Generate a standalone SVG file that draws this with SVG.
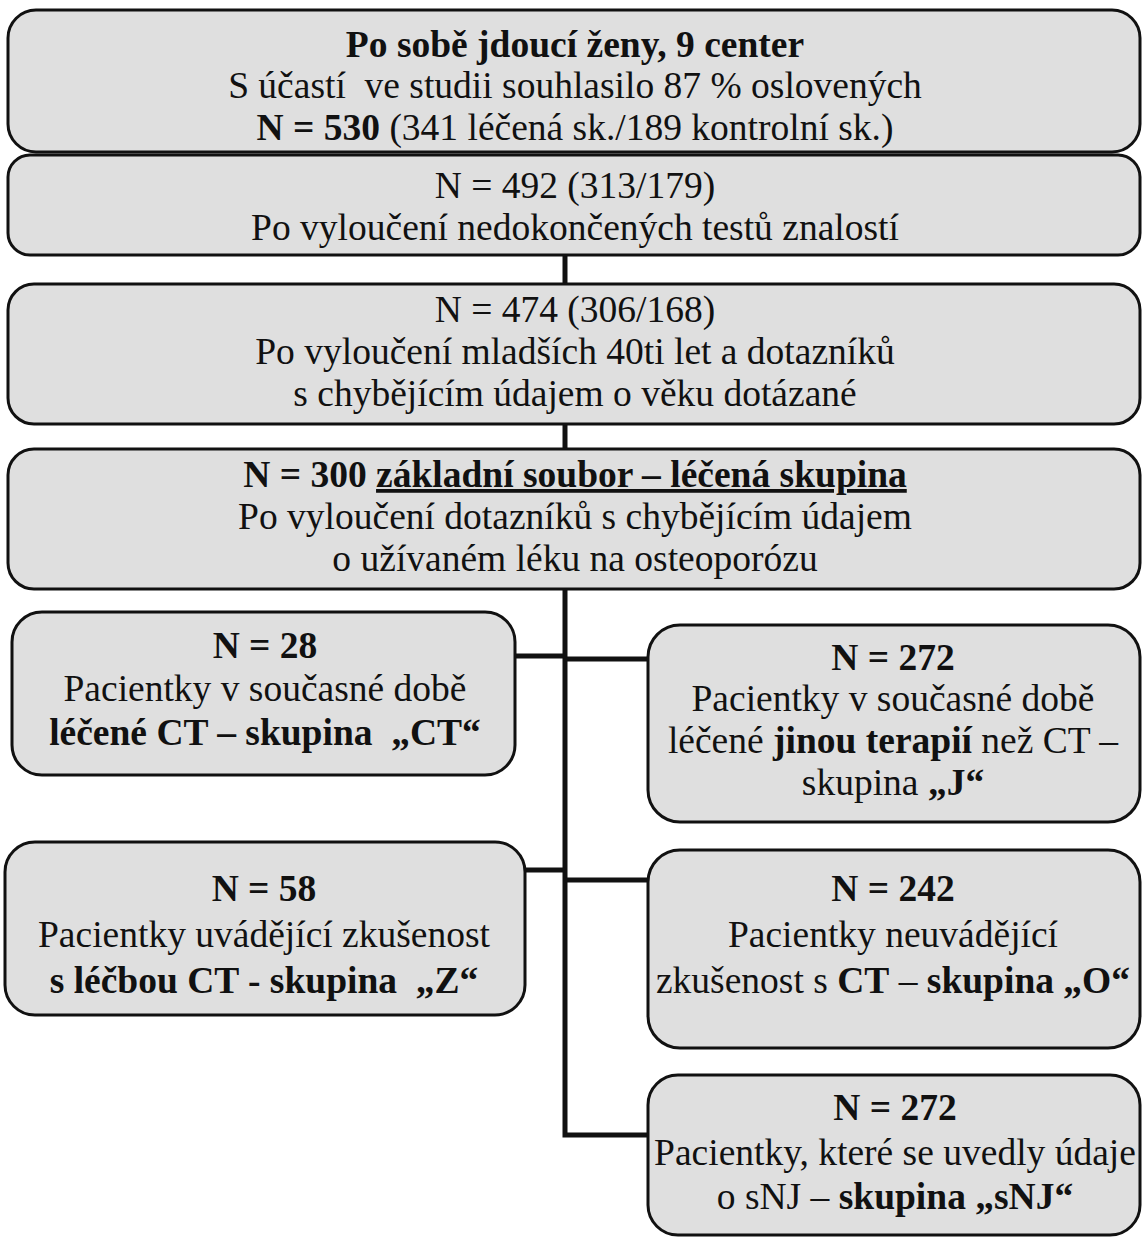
<svg xmlns="http://www.w3.org/2000/svg" width="1145" height="1239" viewBox="0 0 1145 1239">
<style>
.box{fill:#dfdfdf;stroke:#111;stroke-width:3}
.conn{stroke:#111;stroke-width:5;fill:none}
text{font-family:"Liberation Serif","Times New Roman",serif;font-size:37.5px;fill:#111;text-anchor:middle}
.b{font-weight:bold}
</style>
<rect width="1145" height="1239" fill="#ffffff"/>
<g id="connectors">
<line class="conn" x1="565" y1="255" x2="565" y2="284"/>
<line class="conn" x1="565" y1="424" x2="565" y2="449"/>
<polyline class="conn" points="565,589 565,1135 648,1135"/>
<line class="conn" x1="515" y1="656" x2="565" y2="656"/>
<line class="conn" x1="565" y1="659" x2="648" y2="659"/>
<line class="conn" x1="525" y1="870" x2="565" y2="870"/>
<line class="conn" x1="565" y1="880" x2="648" y2="880"/>
</g>
<g id="n1">
<rect class="box" x="8" y="10" width="1132" height="142" rx="28"/>
<text x="575" y="57" class="b">Po sobě jdoucí ženy, 9 center</text>
<text x="575" y="98" xml:space="preserve">S účastí  ve studii souhlasilo 87 % oslovených</text>
<text x="575" y="140"><tspan class="b">N = 530</tspan> (341 léčená sk./189 kontrolní sk.)</text>
</g>
<g id="n2">
<rect class="box" x="8" y="155" width="1132" height="100" rx="22"/>
<text x="575" y="198">N = 492 (313/179)</text>
<text x="575" y="240">Po vyloučení nedokončených testů znalostí</text>
</g>
<g id="n3">
<rect class="box" x="8" y="284" width="1132" height="140" rx="26"/>
<text x="575" y="322">N = 474 (306/168)</text>
<text x="575" y="364">Po vyloučení mladších 40ti let a dotazníků</text>
<text x="575" y="406">s chybějícím údajem o věku dotázané</text>
</g>
<g id="n4">
<rect class="box" x="8" y="449" width="1132" height="140" rx="26"/>
<text x="575" y="487" class="b">N = 300 <tspan text-decoration="underline">základní soubor – léčená skupina</tspan></text>
<text x="575" y="529">Po vyloučení dotazníků s chybějícím údajem</text>
<text x="575" y="571">o užívaném léku na osteoporózu</text>
</g>
<g id="nCT">
<rect class="box" x="12" y="612" width="503" height="163" rx="30"/>
<text x="265" y="658" class="b">N = 28</text>
<text x="265" y="701">Pacientky v současné době</text>
<text x="265" y="745" class="b" xml:space="preserve">léčené CT – skupina  „CT“</text>
</g>
<g id="nJ">
<rect class="box" x="648" y="625" width="492" height="197" rx="32"/>
<text x="893" y="670" class="b">N = 272</text>
<text x="893" y="711">Pacientky v současné době</text>
<text x="893" y="753">léčené <tspan class="b">jinou terapií</tspan> než CT –</text>
<text x="893" y="795">skupina <tspan class="b">„J“</tspan></text>
</g>
<g id="nZ">
<rect class="box" x="5" y="842" width="520" height="173" rx="30"/>
<text x="264" y="901" class="b">N = 58</text>
<text x="264" y="947">Pacientky uvádějící zkušenost</text>
<text x="264" y="993" class="b" xml:space="preserve">s léčbou CT - skupina  „Z“</text>
</g>
<g id="nO">
<rect class="box" x="648" y="850" width="492" height="198" rx="32"/>
<text x="893" y="901" class="b">N = 242</text>
<text x="893" y="947">Pacientky neuvádějící</text>
<text x="893" y="993">zkušenost s <tspan class="b">CT</tspan> – <tspan class="b">skupina „O“</tspan></text>
</g>
<g id="nSNJ">
<rect class="box" x="648" y="1075" width="492" height="160" rx="30"/>
<text x="895" y="1120" class="b">N = 272</text>
<text x="895" y="1165">Pacientky, které se uvedly údaje</text>
<text x="895" y="1209">o sNJ – <tspan class="b">skupina „sNJ“</tspan></text>
</g>
</svg>
